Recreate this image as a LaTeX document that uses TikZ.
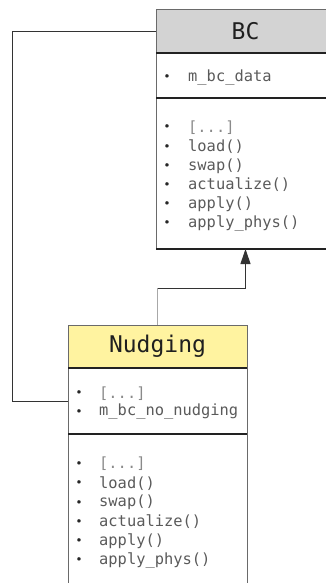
\documentclass[tikz,border=0pt]{standalone}
\usepackage{fontspec}
\newfontfamily\codefont{DejaVu Sans Mono}
\usetikzlibrary{arrows.meta}
\definecolor{boxline}{HTML}{6A6A6A}
\definecolor{divline}{HTML}{222222}
\definecolor{headgray}{HTML}{D3D3D3}
\definecolor{headyellow}{HTML}{FFF3A0}
\definecolor{itemtext}{HTML}{5A5A5A}
\definecolor{elided}{HTML}{8A8A8A}
\definecolor{linkdark}{HTML}{333333}
\definecolor{linklight}{HTML}{A8A8A8}
\tikzset{
  section/.style={draw=boxline, line width=1pt, inner sep=0pt, outer sep=0pt,
    minimum width=179pt, anchor=north west},
  title/.style={font=\codefont\fontsize{23}{23}\selectfont, text=black!88, inner sep=0pt, anchor=center},
  member/.style={font=\codefont\fontsize{15.4}{16}\selectfont, text=itemtext, inner sep=0pt, anchor=west},
  dots/.style={member, text=elided},
  dot/.style={font=\fontsize{13}{13}\selectfont, text=black!85, inner sep=0pt, anchor=center},
  divider/.style={draw=divline, line width=1.1pt},
}
\begin{document}
\begin{tikzpicture}[x=1pt, y=-1pt]
\useasboundingbox (0,0) rectangle (326,583);
\clip (0,0) rectangle (326,583);

% ---- class BC ----
\node[section, fill=headgray, minimum height=43pt] (bchead) at (156,10) {};
\node[section, minimum height=45pt] (bcattr) at (156,53) {};
\node[section, minimum height=151pt] (bcmeth) at (156,98) {};
\draw[divider] (bcattr.north west) -- (bcattr.north east);
\draw[divider] (bcmeth.north west) -- (bcmeth.north east);
\draw[divider] (bcmeth.south west) -- (bcmeth.south east);
\node[title] (bctitle) at (bchead.center) {BC};

\node[dot] (bcb1) at (167,77) {•};
\node[member] (bca1) at (188,77) {m\_bc\_data};

\node[dot] (bcm1d) at (167,127.5) {•};
\node[dots] (bcm1) at (188,127.5) {[...]};
\node[dot] (bcm2d) at (167,146.7) {•};
\node[member] (bcm2) at (188,146.7) {load()};
\node[dot] (bcm3d) at (167,165.9) {•};
\node[member] (bcm3) at (188,165.9) {swap()};
\node[dot] (bcm4d) at (167,185.1) {•};
\node[member] (bcm4) at (188,185.1) {actualize()};
\node[dot] (bcm5d) at (167,204.3) {•};
\node[member] (bcm5) at (188,204.3) {apply()};
\node[dot] (bcm6d) at (167,223.5) {•};
\node[member] (bcm6) at (188,223.5) {apply\_phys()};

% ---- class Nudging ----
\node[section, fill=headyellow, minimum height=43pt] (nudhead) at (68,325) {};
\node[section, minimum height=66pt] (nudattr) at (68,368) {};
\node[section, minimum height=170pt] (nudmeth) at (68,434) {};
\draw[divider] (nudattr.north west) -- (nudattr.north east);
\draw[divider] (nudmeth.north west) -- (nudmeth.north east);
\node[title] (nudtitle) at (nudhead.center) {Nudging};

\node[dot] (nua1d) at (79,393.3) {•};
\node[dots] (nua1) at (99,393.3) {[...]};
\node[dot] (nua2d) at (79,411.9) {•};
\node[member] (nua2) at (99,411.9) {m\_bc\_no\_nudging};

\node[dot] (num1d) at (79,464) {•};
\node[dots] (num1) at (99,464) {[...]};
\node[dot] (num2d) at (79,483.3) {•};
\node[member] (num2) at (99,483.3) {load()};
\node[dot] (num3d) at (79,502.6) {•};
\node[member] (num3) at (99,502.6) {swap()};
\node[dot] (num4d) at (79,521.9) {•};
\node[member] (num4) at (99,521.9) {actualize()};
\node[dot] (num5d) at (79,541.2) {•};
\node[member] (num5) at (99,541.2) {apply()};
\node[dot] (num6d) at (79,560.5) {•};
\node[member] (num6) at (99,560.5) {apply\_phys()};

% ---- association: BC header to Nudging attributes ----
\coordinate (elbow) at (12,31.5);
\draw[linkdark, line width=1pt] (bchead.west) -- (elbow) |- (nudattr.west);

% ---- inheritance: Nudging derives from BC ----
\coordinate (kink) at (nudhead.north |- 0,288);
\draw[linklight, line width=1.2pt] (nudhead.north) -- (kink);
\draw[linkdark, line width=1pt, -{Triangle[length=15pt, width=10pt]}]
  (kink) -| (bcmeth.south);
\end{tikzpicture}
\end{document}
